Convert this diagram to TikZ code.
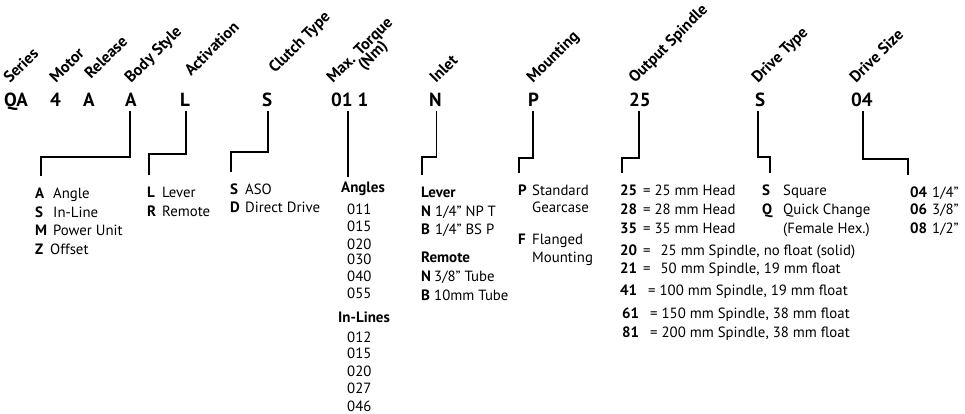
\documentclass[tikz,border=0pt]{standalone}
\usepackage{fontspec}
\setmainfont{PT Sans}
\begin{document}
\begin{tikzpicture}[x=1pt,y=-1pt,
  hdr/.style={font=\bfseries\fontsize{16}{16}\selectfont,rotate=45,anchor=base west,inner sep=0pt},
  code/.style={font=\bfseries\fontsize{19}{19}\selectfont,anchor=base west,inner sep=0pt},
  key/.style={font=\bfseries\fontsize{15}{17}\selectfont,anchor=base west,inner sep=0pt},
  desc/.style={font=\fontsize{14.8}{17}\selectfont,anchor=base west,inner sep=0pt},
  conn/.style={line width=1.8pt,line join=miter}]
\useasboundingbox (0,0) rectangle (965,414);
% headers
\node[hdr] (hSeries) at (10,84) {Series};
\node[hdr] (hMotor) at (56,84) {Motor};
\node[hdr] (hRelease) at (91,80) {Release};
\node[hdr] (hBody) at (131,84) {Body Style};
\node[hdr] (hAct) at (191,77) {Activation};
\node[hdr] (hClutch) at (275,74) {Clutch Type};
\node[hdr] (hTorque) at (333,84) {Max. Torque};
\node[hdr] (hNm) at (364,71) {(Nm)};
\node[hdr] (hInlet) at (436,84) {Inlet};
\node[hdr] (hMount) at (533,84) {Mounting};
\node[hdr] (hOut) at (635,84) {Output Spindle};
\node[hdr] (hDType) at (758,84) {Drive Type};
\node[hdr] (hDSize) at (856,84) {Drive Size};
% codes
\node[code] (cSeries) at (4,107) {QA};
\node[code] (cMotor) at (50,107) {4};
\node[code] (cRelease) at (83,107) {A};
\node[code] (cBody) at (125,107) {A};
\node[code] (cAct) at (180,107) {L};
\node[code] (cClutch) at (262,107) {S};
\node[code] (cTorque) at (331,107) {01 1};
\node[code] (cInlet) at (429,107) {N};
\node[code] (cMount) at (528,107) {P};
\node[code] (cOut) at (629,107) {25};
\node[code] (cDType) at (755,107) {S};
\node[code] (cDSize) at (851,107) {04};
% body style list
\node[key] (bA) at (35,198) {A}; \node[desc] at (53,198) {Angle};
\node[key] (bS) at (35,217) {S}; \node[desc] at (53,217) {In-Line};
\node[key] (bM) at (35,235) {M}; \node[desc] at (53,235) {Power Unit};
\node[key] (bZ) at (35,254) {Z}; \node[desc] at (50,254) {Offset};
% activation list
\node[key] (aL) at (147,197) {L}; \node[desc] at (162,197) {Lever};
\node[key] (aR) at (147,216) {R}; \node[desc] at (162,216) {Remote};
% clutch list
\node[key] (kS) at (230,194) {S}; \node[desc] at (245,194) {ASO};
\node[key] (kD) at (230,212) {D}; \node[desc] at (245,212) {Direct Drive};
% torque list
\node[key] (tAngles) at (341,193) {Angles};
\node[desc] at (347,214) {011};
\node[desc] at (347,231) {015};
\node[desc] at (347,249) {020};
\node[desc] at (347,264) {030};
\node[desc] at (347,281) {040};
\node[desc] at (347,298) {055};
\node[key] (tInl) at (338,322) {In-Lines};
\node[desc] at (347,342) {012};
\node[desc] at (347,358) {015};
\node[desc] at (347,376) {020};
\node[desc] at (347,393) {027};
\node[desc] at (347,411) {046};
% inlet list
\node[key] (iLever) at (421,197) {Lever};
\node[key] (iN1) at (421,216) {N}; \node[desc] at (435,216) {1/4” NP T};
\node[key] (iB1) at (421,234) {B}; \node[desc] at (435,234) {1/4” BS P};
\node[key] (iRemote) at (421,262) {Remote};
\node[key] (iN2) at (421,281) {N}; \node[desc] at (434,281) {3/8" Tube};
\node[key] (iB2) at (421,300) {B}; \node[desc] at (434,300) {10mm Tube};
% mounting list
\node[key] (mP) at (518,195) {P}; \node[desc] at (532,195) {Standard};
\node[desc] at (532,212) {Gearcase};
\node[key] (mF) at (518,244) {F}; \node[desc] at (532,244) {Flanged};
\node[desc] at (532,262) {Mounting};
% output spindle list
\node[key] (o25) at (620,195) {25}; \node[desc] at (643,195) {= 25 mm Head};
\node[key] (o28) at (620,214) {28}; \node[desc] at (643,214) {= 28 mm Head};
\node[key] (o35) at (620,233) {35}; \node[desc] at (643,233) {= 35 mm Head};
\node[key] (o20) at (620,255) {20}; \node[desc] at (643,255) {=\hspace{10pt}25 mm Spindle, no float (solid)};
\node[key] (o21) at (620,273) {21}; \node[desc] at (643,273) {=\hspace{10pt}50 mm Spindle, 19 mm float};
\node[key] (o41) at (620,295) {41}; \node[desc] at (648,295) {= 100 mm Spindle, 19 mm float};
\node[key] (o61) at (622,318) {61}; \node[desc] at (650,318) {= 150 mm Spindle, 38 mm float};
\node[key] (o81) at (622,337) {81}; \node[desc] at (650,337) {= 200 mm Spindle, 38 mm float};
% drive type list
\node[key] (dS) at (762,195) {S}; \node[desc] at (783,195) {Square};
\node[key] (dQ) at (762,214) {Q}; \node[desc] at (783,214) {Quick Change};
\node[desc] at (783,233) {(Female Hex.)};
% drive size list
\node[key] (s04) at (910,197) {04}; \node[desc] at (932,197) {1/4”};
\node[key] (s06) at (910,214) {06}; \node[desc] at (932,214) {3/8”};
\node[key] (s08) at (910,233) {08}; \node[desc] at (932,233) {1/2”};
% connector end points
\coordinate (sBody) at ([xshift=-1pt,yshift=-4pt]cBody.south);
\coordinate (eBody) at ([xshift=1pt,yshift=11pt]bA.north);
\coordinate (sAct) at ([xshift=1pt,yshift=-4pt]cAct.south);
\coordinate (eAct) at ([xshift=-2pt,yshift=11pt]aL.north);
\coordinate (sClutch) at ([xshift=1pt,yshift=-4pt]cClutch.south);
\coordinate (eClutch) at ([xshift=-3pt,yshift=11pt]kS.north);
\coordinate (sTorque) at ([xshift=-2pt,yshift=-4pt]cTorque.south);
\coordinate (sInlet) at ([xshift=1pt,yshift=-4pt]cInlet.south);
\coordinate (eInlet) at ([xshift=1pt,yshift=11pt]iLever.north west);
\coordinate (sMount) at ([xshift=-1pt,yshift=-4pt]cMount.south);
\coordinate (eMount) at ([xshift=1pt,yshift=11pt]mP.north west);
\coordinate (sOut) at ([xshift=-1pt,yshift=-4pt]cOut.south);
\coordinate (eOut) at ([xshift=2pt,yshift=11pt]o25.north west);
\coordinate (sDType) at ([xshift=-2pt,yshift=-4pt]cDType.south);
\coordinate (eDType) at ([yshift=11pt]dS.north east);
\coordinate (sDSize) at ([xshift=1pt,yshift=-4pt]cDSize.south);
\coordinate (eDSize) at ([xshift=-2pt,yshift=11pt]s04.north west);
% connectors
\draw[conn] (sBody) -- (sBody |- 0,157) -| (eBody);
\draw[conn] (sAct) -- (sAct |- 0,154) -| (eAct);
\draw[conn] (sClutch) -- (sClutch |- 0,152) -| (eClutch);
\draw[conn] (sTorque) -- (sTorque |- 0,177);
\draw[conn] (sInlet) -- (sInlet |- 0,157) -| (eInlet);
\draw[conn] (sMount) -- (sMount |- 0,158) -| (eMount);
\draw[conn] (sOut) -- (sOut |- 0,158) -| (eOut);
\draw[conn] (sDType) -- (sDType |- 0,157) -| (eDType);
\draw[conn] (sDSize) -- (sDSize |- 0,159) -| (eDSize);
\end{tikzpicture}
\end{document}
